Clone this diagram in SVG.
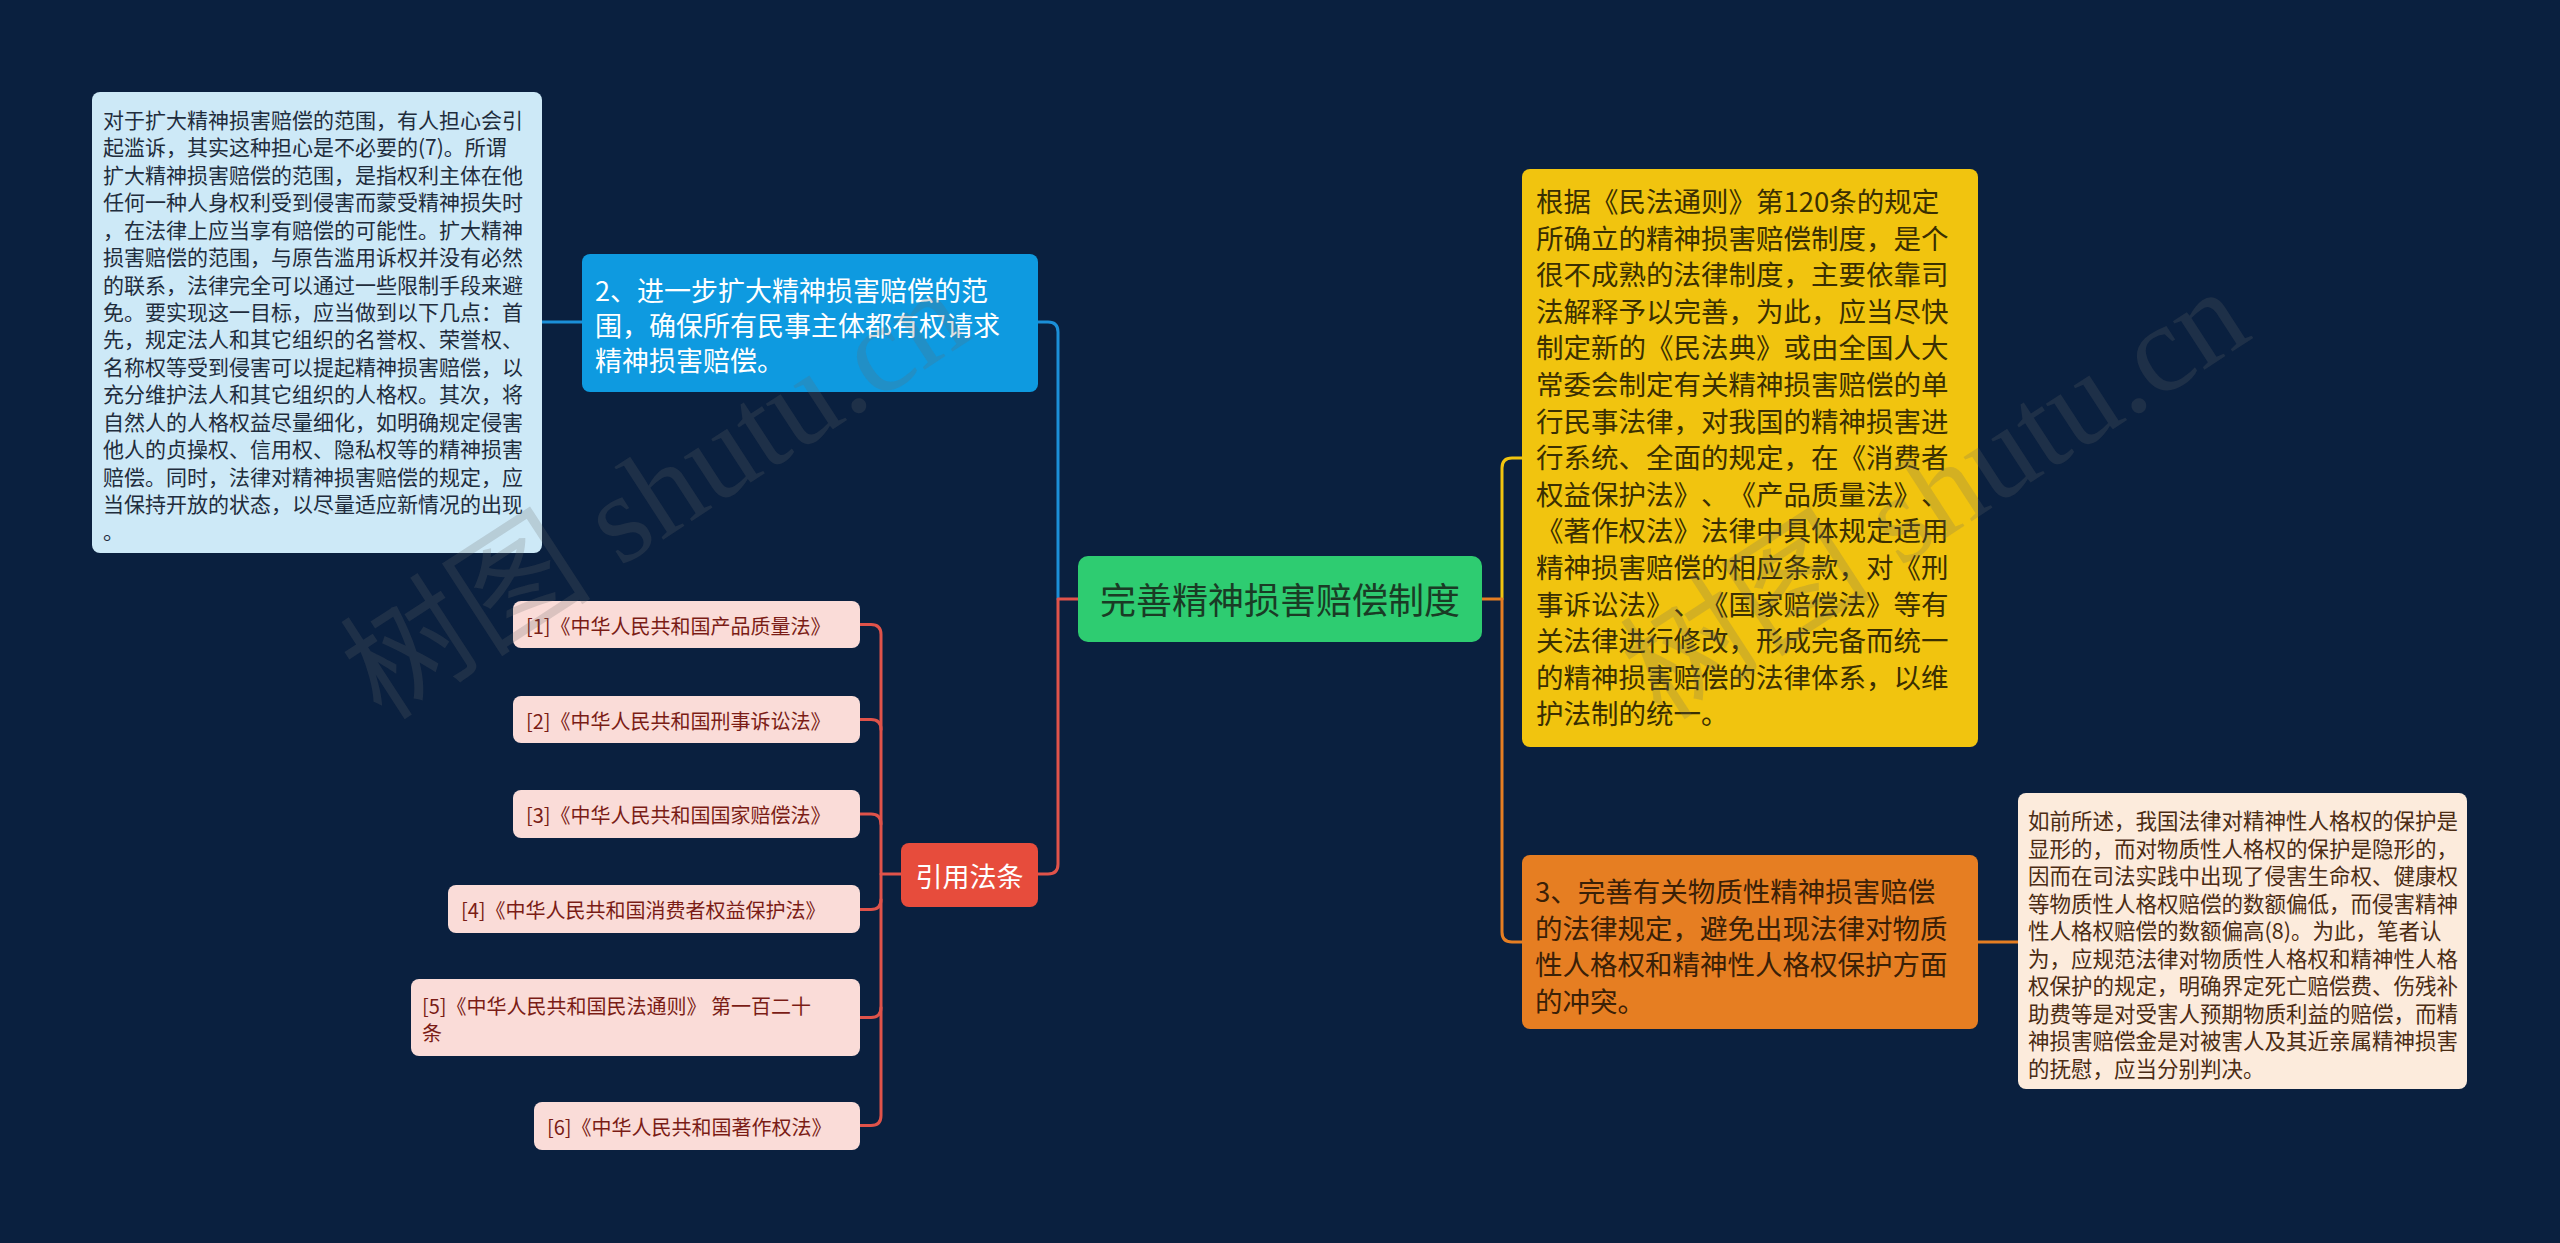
<svg xmlns="http://www.w3.org/2000/svg" width="2560" height="1243" viewBox="0 0 2560 1243">
<style>
text{font-family:"Noto Sans CJK SC","Noto Sans",sans-serif;dominant-baseline:central;text-spacing-trim:space-all}
.c{fill:none;stroke-width:3;stroke-linecap:round;stroke-linejoin:round}
.cb{stroke:#1b8fd8}.cr{stroke:#e0534a}.cy{stroke:#f1c40f}.co{stroke:#e67e22}
.t21{font-size:21px}
.cite rect{fill:#fadcd8}
.cite text{font-size:20px;fill:#7a1c16}
.wm{font-family:"Liberation Serif","Noto Sans CJK SC",serif;font-size:126px;fill:#6b6b6b;fill-opacity:0.22;dominant-baseline:alphabetic}
</style>
<rect x="0" y="0" width="2560" height="1243" fill="#0a203f"/>
<g id="connectors">
<path class="c cb" d="M1058,599 V332 Q1058,322 1048,322 H1038"/>
<path class="c cr" d="M1078,599 H1058 V864 Q1058,874 1048,874 H1038"/>
<path class="c cb" d="M582,322 H542"/>
<path class="c cy" d="M1502,599 V468 Q1502,458 1512,458 H1522"/>
<path class="c co" d="M1482,599 H1502 V932 Q1502,942 1512,942 H1522"/>
<path class="c co" d="M1749,942 H2018"/>
<path class="c cr" d="M901,874 H881 V634.5 Q881,624.5 871,624.5 H860"/>
<path class="c cr" d="M881,729.5 Q881,719.5 871,719.5 H860"/>
<path class="c cr" d="M881,824 Q881,814 871,814 H860"/>
<path class="c cr" d="M881,874 V899.5 Q881,909.5 871,909.5 H860"/>
<path class="c cr" d="M881,899.5 V1007.5 Q881,1017.5 871,1017.5 H860"/>
<path class="c cr" d="M881,1007.5 V1115.5 Q881,1125.5 871,1125.5 H860"/>
</g>
<g id="center">
<rect x="1078" y="556" width="404" height="86" rx="10" fill="#2ecc71"/>
<text x="1280" y="598" font-size="36" fill="#1a3b25" text-anchor="middle">完善精神损害赔偿制度</text>
</g>
<g id="node-2">
<rect x="582" y="254" width="456" height="138" rx="8" fill="#0e9ae0"/>
<text font-size="27" fill="#ffffff">
<tspan x="595" y="289">2、进一步扩大精神损害赔偿的范</tspan>
<tspan x="595" y="324">围，确保所有民事主体都有权请求</tspan>
<tspan x="595" y="359">精神损害赔偿。</tspan>
</text>
</g>
<g id="node-2-detail">
<rect x="92" y="92" width="450" height="461" rx="8" fill="#cde9f7"/>
<text class="t21" fill="#1f2d3d">
<tspan x="103" y="119">对于扩大精神损害赔偿的范围，有人担心会引</tspan>
<tspan x="103" y="146.4">起滥诉，其实这种担心是不必要的(7)。所谓</tspan>
<tspan x="103" y="173.9">扩大精神损害赔偿的范围，是指权利主体在他</tspan>
<tspan x="103" y="201.3">任何一种人身权利受到侵害而蒙受精神损失时</tspan>
<tspan x="103" y="228.7">，在法律上应当享有赔偿的可能性。扩大精神</tspan>
<tspan x="103" y="256.2">损害赔偿的范围，与原告滥用诉权并没有必然</tspan>
<tspan x="103" y="283.6">的联系，法律完全可以通过一些限制手段来避</tspan>
<tspan x="103" y="311">免。要实现这一目标，应当做到以下几点：首</tspan>
<tspan x="103" y="338.4">先，规定法人和其它组织的名誉权、荣誉权、</tspan>
<tspan x="103" y="365.9">名称权等受到侵害可以提起精神损害赔偿，以</tspan>
<tspan x="103" y="393.3">充分维护法人和其它组织的人格权。其次，将</tspan>
<tspan x="103" y="420.7">自然人的人格权益尽量细化，如明确规定侵害</tspan>
<tspan x="103" y="448.2">他人的贞操权、信用权、隐私权等的精神损害</tspan>
<tspan x="103" y="475.6">赔偿。同时，法律对精神损害赔偿的规定，应</tspan>
<tspan x="103" y="503">当保持开放的状态，以尽量适应新情况的出现</tspan>
<tspan x="103" y="530.4">。</tspan>
</text>
</g>
<g id="node-cite">
<rect x="901" y="843" width="137" height="64" rx="8" fill="#e74c3c"/>
<text x="969.5" y="875" font-size="27" fill="#ffffff" text-anchor="middle">引用法条</text>
</g>
<g id="cite-1" class="cite"><rect x="513" y="601" width="347" height="47" rx="8"/><text x="526" y="625">[1]《中华人民共和国产品质量法》</text></g>
<g id="cite-2" class="cite"><rect x="513" y="696" width="347" height="47" rx="8"/><text x="526" y="720">[2]《中华人民共和国刑事诉讼法》</text></g>
<g id="cite-3" class="cite"><rect x="513" y="790" width="347" height="48" rx="8"/><text x="526" y="814">[3]《中华人民共和国国家赔偿法》</text></g>
<g id="cite-4" class="cite"><rect x="448" y="885" width="412" height="48" rx="8"/><text x="461" y="909.5">[4]《中华人民共和国消费者权益保护法》</text></g>
<g id="cite-5" class="cite"><rect x="411" y="979" width="449" height="77" rx="8"/><text><tspan x="422" y="1005">[5]《中华人民共和国民法通则》 第一百二十</tspan><tspan x="422" y="1032">条</tspan></text></g>
<g id="cite-6" class="cite"><rect x="534" y="1102" width="326" height="48" rx="8"/><text x="547" y="1126">[6]《中华人民共和国著作权法》</text></g>
<g id="node-1">
<rect x="1522" y="169" width="456" height="578" rx="8" fill="#f1c40f"/>
<text font-size="27.5" fill="#3a2f02">
<tspan x="1536" y="200">根据《民法通则》第120条的规定</tspan>
<tspan x="1536" y="236.6">所确立的精神损害赔偿制度，是个</tspan>
<tspan x="1536" y="273.2">很不成熟的法律制度，主要依靠司</tspan>
<tspan x="1536" y="309.8">法解释予以完善，为此，应当尽快</tspan>
<tspan x="1536" y="346.4">制定新的《民法典》或由全国人大</tspan>
<tspan x="1536" y="383">常委会制定有关精神损害赔偿的单</tspan>
<tspan x="1536" y="419.6">行民事法律，对我国的精神损害进</tspan>
<tspan x="1536" y="456.2">行系统、全面的规定，在《消费者</tspan>
<tspan x="1536" y="492.8">权益保护法》、《产品质量法》、</tspan>
<tspan x="1536" y="529.4">《著作权法》法律中具体规定适用</tspan>
<tspan x="1536" y="566">精神损害赔偿的相应条款，对《刑</tspan>
<tspan x="1536" y="602.6">事诉讼法》、《国家赔偿法》等有</tspan>
<tspan x="1536" y="639.2">关法律进行修改，形成完备而统一</tspan>
<tspan x="1536" y="675.8">的精神损害赔偿的法律体系，以维</tspan>
<tspan x="1536" y="712.4">护法制的统一。</tspan>
</text>
</g>
<g id="node-3">
<rect x="1522" y="855" width="456" height="174" rx="8" fill="#e67e22"/>
<text font-size="27.5" fill="#3a2007">
<tspan x="1535" y="890">3、完善有关物质性精神损害赔偿</tspan>
<tspan x="1535" y="926.5">的法律规定，避免出现法律对物质</tspan>
<tspan x="1535" y="963">性人格权和精神性人格权保护方面</tspan>
<tspan x="1535" y="999.5">的冲突。</tspan>
</text>
</g>
<g id="node-3-detail">
<rect x="2018" y="793" width="449" height="296" rx="8" fill="#fcebdc"/>
<text font-size="21.5" fill="#4b2c14">
<tspan x="2028" y="819">如前所述，我国法律对精神性人格权的保护是</tspan>
<tspan x="2028" y="846.5">显形的，而对物质性人格权的保护是隐形的，</tspan>
<tspan x="2028" y="874">因而在司法实践中出现了侵害生命权、健康权</tspan>
<tspan x="2028" y="901.5">等物质性人格权赔偿的数额偏低，而侵害精神</tspan>
<tspan x="2028" y="929">性人格权赔偿的数额偏高(8)。为此，笔者认</tspan>
<tspan x="2028" y="956.5">为，应规范法律对物质性人格权和精神性人格</tspan>
<tspan x="2028" y="984">权保护的规定，明确界定死亡赔偿费、伤残补</tspan>
<tspan x="2028" y="1011.5">助费等是对受害人预期物质利益的赔偿，而精</tspan>
<tspan x="2028" y="1039">神损害赔偿金是对被害人及其近亲属精神损害</tspan>
<tspan x="2028" y="1066.5">的抚慰，应当分别判决。</tspan>
</text>
</g>
<g id="watermark">
<text class="wm" transform="translate(382,722) rotate(-33)">树图 shutu.cn</text>
<text class="wm" transform="translate(1662,722) rotate(-33)">树图 shutu.cn</text>
</g>
</svg>
